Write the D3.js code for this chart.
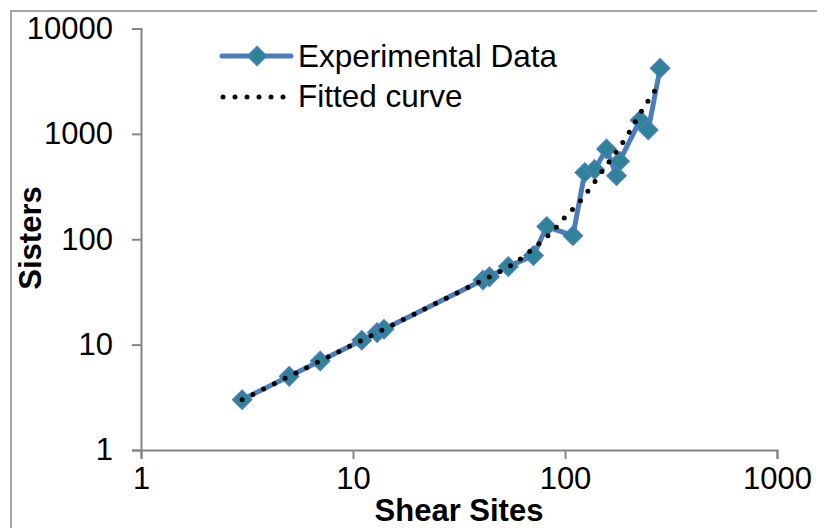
<!DOCTYPE html>
<html>
<head>
<meta charset="utf-8">
<script src="https://cdn.jsdelivr.net/npm/d3@7"></script>
<style>
  html, body { margin: 0; padding: 0; background: #fff; }
  svg { display: block; font-family: "Liberation Sans", Arial, sans-serif; }
</style>
</head>
<body>
<svg id="chart" width="817" height="528"></svg>
<script>
// Measured sisters per number of shear sites (log-log)
const expX = [3, 5, 7, 11, 13, 14, 41, 44, 54, 71, 82, 109, 124, 138, 157, 175, 181, 226, 247, 281];
const expY = [3, 5, 7, 11, 13, 14, 41, 44, 55, 70, 132, 108, 430, 460, 720, 400, 550, 1350, 1090, 4200];

// Fitted curve, sampled along x
const fitX = [3, 5, 7, 10, 14, 20, 30, 40, 47, 59, 72, 87, 95, 103, 113, 123, 154, 192, 233, 268, 281];
const fitY = [3, 5, 7, 10, 14, 20, 30, 40, 47, 61, 84, 118, 143, 173, 208, 257, 477, 893, 1719, 2644, 3050];

const xTicks = [1, 10, 100, 1000];
const yTicks = [1, 10, 100, 1000, 10000];

const seriesNames = ["Experimental Data", "Fitted curve"];
const xTitle = "Shear Sites";
const yTitle = "Sisters";

const svg = d3.select("#chart");
const axisColor = "#868686";
const lineBlue = "#4A7EBB";
const markerFill = "#2F8399";
const fontSize = 31;

// Chart area border
svg.append("rect")
  .attr("x", 11).attr("y", 11)
  .attr("width", 830).attr("height", 540)
  .attr("fill", "none")
  .attr("stroke", "#898989")
  .attr("stroke-width", 1.5);

const x = d3.scaleLog().domain([1, 1000]).range([141, 777]);
const y = d3.scaleLog().domain([1, 10000]).range([450, 28.5]);

// Axes
const xAxis = d3.axisBottom(x).tickValues(xTicks).tickFormat(d3.format("d"))
  .tickSize(9).tickPadding(8);
const yAxis = d3.axisLeft(y).tickValues(yTicks).tickFormat(d3.format("d"))
  .tickSize(9).tickPadding(19);

const gx = svg.append("g").attr("transform", "translate(0,450)").call(xAxis);
const gy = svg.append("g").attr("transform", "translate(141,0)").call(yAxis);

[gx, gy].forEach(g => {
  g.select(".domain").attr("stroke", axisColor).attr("stroke-width", 2);
  g.selectAll(".tick line").attr("stroke", axisColor).attr("stroke-width", 2);
  g.selectAll(".tick text")
    .attr("fill", "#000")
    .style("font-size", fontSize + "px")
    .style("font-family", "'Liberation Sans', Arial, sans-serif");
});

// Axis titles
svg.append("text")
  .attr("x", 459).attr("y", 521)
  .attr("text-anchor", "middle")
  .style("font-size", "31px").style("font-weight", "bold")
  .text(xTitle);

svg.append("text")
  .attr("transform", "translate(41,238) rotate(-90)")
  .attr("text-anchor", "middle")
  .style("font-size", "31px").style("font-weight", "bold")
  .text(yTitle);

// Diamond marker path
const diamond = "M0,-9.5L9.5,0L0,9.5L-9.5,0Z";

// Experimental series
const expData = expX.map((d, i) => ({ x: d, y: expY[i] }));
const line = d3.line().x(d => x(d.x)).y(d => y(d.y));

svg.append("path")
  .datum(expData)
  .attr("d", line)
  .attr("fill", "none")
  .attr("stroke", lineBlue)
  .attr("stroke-width", 5)
  .attr("stroke-linejoin", "round")
  .attr("stroke-linecap", "round");

svg.append("g").selectAll("path")
  .data(expData)
  .join("path")
  .attr("d", diamond)
  .attr("transform", d => `translate(${x(d.x)},${y(d.y)})`)
  .attr("fill", markerFill)
  .attr("stroke", lineBlue)
  .attr("stroke-width", 1.5);

// Fitted curve (dotted)
const fitData = fitX.map((d, i) => ({ x: d, y: fitY[i] }));
const fitLine = d3.line().x(d => x(d.x)).y(d => y(d.y)).curve(d3.curveMonotoneX);

svg.append("path")
  .datum(fitData)
  .attr("d", fitLine)
  .attr("fill", "none")
  .attr("stroke", "#000")
  .attr("stroke-width", 5)
  .attr("stroke-linecap", "round")
  .attr("stroke-dasharray", "0,12");

// Legend
const legend = svg.append("g");
legend.append("line")
  .attr("x1", 222).attr("x2", 291).attr("y1", 56).attr("y2", 56)
  .attr("stroke", lineBlue).attr("stroke-width", 5).attr("stroke-linecap", "round");
legend.append("path")
  .attr("d", diamond)
  .attr("transform", "translate(257,56)")
  .attr("fill", markerFill).attr("stroke", lineBlue).attr("stroke-width", 1.5);
legend.append("line")
  .attr("x1", 223).attr("x2", 284).attr("y1", 97).attr("y2", 97)
  .attr("stroke", "#000").attr("stroke-width", 5)
  .attr("stroke-linecap", "round").attr("stroke-dasharray", "0,12");

legend.selectAll("text")
  .data(seriesNames)
  .join("text")
  .attr("x", 298)
  .attr("y", (d, i) => 67 + i * 40)
  .style("font-size", "31.5px")
  .text(d => d);
</script>
</body>
</html>
